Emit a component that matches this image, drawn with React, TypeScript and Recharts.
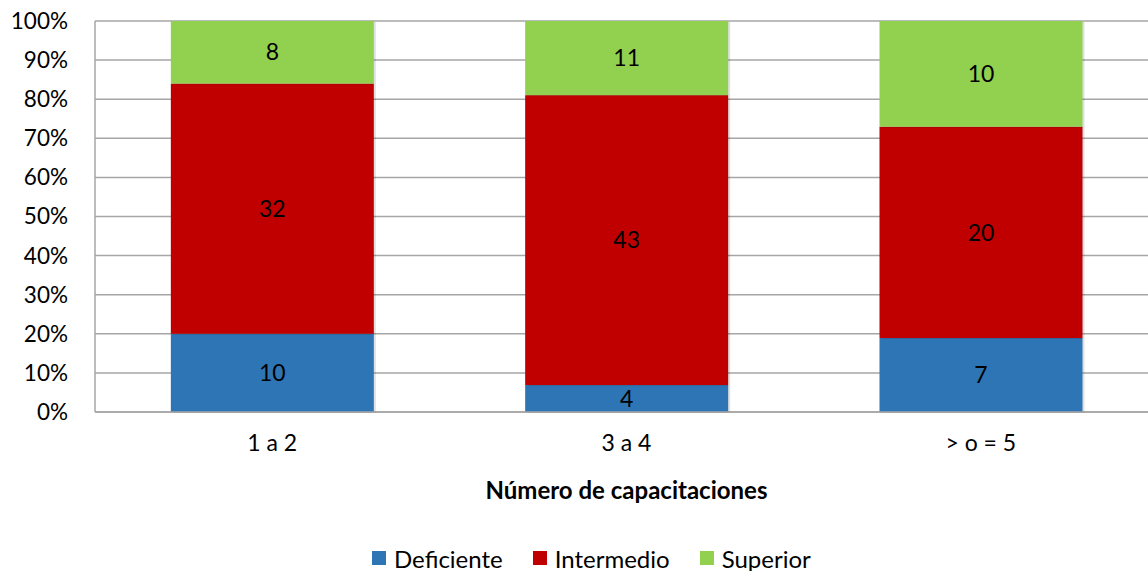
import { BarChart, Bar, XAxis, YAxis, CartesianGrid, Legend, LabelList } from 'recharts'

const categories = ['1 a 2', '3 a 4', '> o = 5']
const deficiente = [10, 4, 7]
const intermedio = [32, 43, 20]
const superior = [8, 11, 10]
const yTicks = [0, 0.1, 0.2, 0.3, 0.4, 0.5, 0.6, 0.7, 0.8, 0.9, 1]

const series = [
  { key: 'Deficiente', color: '#2E75B6' },
  { key: 'Intermedio', color: '#C00000' },
  { key: 'Superior', color: '#92D050' },
]

const data = categories.map((c, i) => ({
  name: c,
  Deficiente: deficiente[i],
  Intermedio: intermedio[i],
  Superior: superior[i],
}))

const font = 'Lato, "Open Sans", sans-serif'
const grid = '#a6a6a6'

function ShadowBar(props: any) {
  const { x, y, width, height, fill } = props
  if (!height) return null
  return (
    <g>
      <rect x={x + 2} y={y + 1} width={width} height={height} fill="#000" opacity={0.12} />
      <rect x={x} y={y} width={width} height={height} fill={fill} />
    </g>
  )
}

function LegendContent() {
  return (
    <div style={{ display: 'flex', justifyContent: 'flex-start', paddingLeft: 372, fontFamily: font, fontSize: 24, color: '#000', height: 26, alignItems: 'center' }}>
      {series.map(s => (
        <div key={s.key} style={{ display: 'flex', alignItems: 'center', marginRight: 30 }}>
          <span style={{ width: 14, height: 14, background: s.color, display: 'inline-block', marginRight: 8 }} />
          <span>{s.key}</span>
        </div>
      ))}
    </div>
  )
}

export default function App() {
  return (
    <div style={{ position: 'absolute', left: 0, top: 0, background: '#fff', width: 1148, height: 571, overflow: 'hidden' }}>
      <BarChart
        width={1148}
        height={571}
        data={data}
        stackOffset="expand"
        barCategoryGap="21.4%"
        margin={{ top: 21, right: -10, bottom: 0, left: 0 }}
      >
        <CartesianGrid vertical={false} stroke={grid} strokeWidth={1.5} />
        <XAxis
          dataKey="name"
          height={133}
          tickLine={false}
          tickSize={0}
          tickMargin={23}
          axisLine={{ stroke: grid, strokeWidth: 1.5 }}
          tick={{ fill: '#000', fontSize: 23, fontFamily: font }}
          label={{ value: 'Número de capacitaciones', position: 'insideBottom', offset: 46, fill: '#000', fontSize: 24, fontWeight: 700, fontFamily: font }}
        />
        <YAxis
          width={95}
          ticks={yTicks}
          domain={[0, 1]}
          interval={0}
          tickLine={false}
          tickSize={0}
          tickMargin={27}
          axisLine={{ stroke: grid, strokeWidth: 1.5 }}
          tickFormatter={(v: number) => `${Math.round(v * 100)}%`}
          tick={{ fill: '#000', fontSize: 22.5, fontFamily: font }}
        />
        <Legend verticalAlign="bottom" content={() => <LegendContent />} wrapperStyle={{ height: 26 }} />
        {series.map(s => (
          <Bar key={s.key} dataKey={s.key} stackId="a" fill={s.color} shape={ShadowBar} isAnimationActive={false}>
            <LabelList dataKey={s.key} position="center" fill="#000" fontSize={23} fontFamily={font} />
          </Bar>
        ))}
      </BarChart>
    </div>
  )
}
